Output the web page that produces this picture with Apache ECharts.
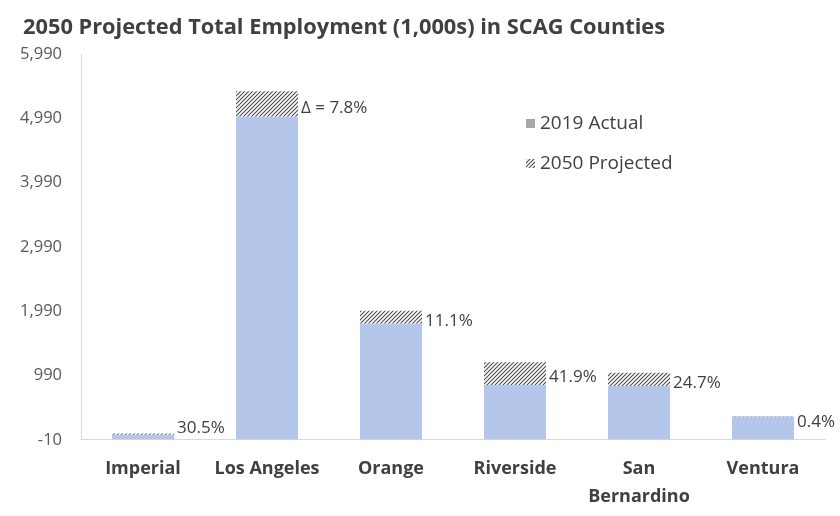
<!DOCTYPE html>
<html>
<head>
<meta charset="utf-8">
<script src="https://cdn.jsdelivr.net/npm/echarts@6/dist/echarts.min.js"></script>
<style>
  html, body { margin: 0; padding: 0; background: #ffffff; }
  #chart { width: 840px; height: 516px; }
</style>
</head>
<body>
<div id="chart"></div>
<script>
// County employment, thousands of jobs
const categories = ['Imperial', 'Los Angeles', 'Orange', 'Riverside', 'San\nBernardino', 'Ventura'];
const actual2019 = [70, 5020, 1800, 845, 830, 360];
const growthPct = [30.5, 7.8, 11.1, 41.9, 24.7, 0.4];
const yTicks = [-10, 990, 1990, 2990, 3990, 4990, 5990];

// Growth to 2050, added on top of the 2019 bar
const growthAmount = actual2019.map((v, i) => v * growthPct[i] / 100);

// Diagonal hatch fill for the projected segment
function hatchPattern() {
  const c = document.createElement('canvas');
  c.width = 4; c.height = 4;
  const g = c.getContext('2d');
  g.fillStyle = '#ffffff';
  g.fillRect(0, 0, 4, 4);
  g.strokeStyle = '#4a4a4a';
  g.lineWidth = 1.1;
  g.beginPath();
  g.moveTo(0, 4); g.lineTo(4, 0);
  g.moveTo(-1, 1); g.lineTo(1, -1);
  g.moveTo(3, 5); g.lineTo(5, 3);
  g.stroke();
  return { image: c, repeat: 'repeat' };
}

const chart = echarts.init(document.getElementById('chart'), null, { renderer: 'canvas' });
const font = '"Open Sans", "Noto Sans", sans-serif';

chart.setOption({
  backgroundColor: '#ffffff',
  animation: false,
  textStyle: { fontFamily: font },
  title: {
    text: '2050 Projected Total Employment (1,000s) in SCAG Counties',
    left: 18, top: 12,
    textStyle: { fontFamily: font, fontSize: 21.8, fontWeight: 'bold', color: '#404040' }
  },
  legend: {
    orient: 'vertical',
    left: 521, top: 109,
    itemWidth: 9, itemHeight: 9, itemGap: 21,
    icon: 'rect',
    textStyle: { fontFamily: font, fontSize: 19, color: '#404040' },
    data: [
      { name: '2019 Actual', itemStyle: { color: '#a4a7ae' } },
      { name: '2050 Projected' }
    ]
  },
  grid: { left: 81, right: 15, top: 54, bottom: 76 },
  xAxis: {
    type: 'category',
    data: categories,
    axisLine: { show: true, lineStyle: { color: '#d9d9d9', width: 1 } },
    axisTick: { show: false },
    axisLabel: {
      interval: 0,
      margin: 15, fontFamily: font, fontSize: 18, fontWeight: 'bold',
      color: '#404040', lineHeight: 28
    }
  },
  yAxis: {
    type: 'value',
    min: yTicks[0], max: yTicks[yTicks.length - 1], interval: 1000,
    axisLine: { show: true, lineStyle: { color: '#d9d9d9' } },
    axisTick: { show: false },
    splitLine: { show: false },
    axisLabel: {
      margin: 19, fontFamily: font, fontSize: 16.5, color: '#595959',
      formatter: v => v.toLocaleString('en-US')
    }
  },
  series: [
    {
      name: '2019 Actual',
      type: 'bar',
      stack: 'emp',
      barWidth: 62,
      itemStyle: { color: '#b4c7ea' },
      data: actual2019
    },
    {
      name: '2050 Projected',
      type: 'bar',
      stack: 'emp',
      barWidth: 62,
      itemStyle: { color: hatchPattern() },
      label: {
        show: true,
        position: 'right',
        distance: 3,
        fontFamily: font, fontSize: 17, color: '#404040',
        formatter: p => (p.dataIndex === 1 ? 'Δ = ' : '') + growthPct[p.dataIndex].toFixed(1) + '%'
      },
      data: growthAmount.map((v, i) => ({
        value: v,
        label: { offset: i === 0 ? [0, -6] : (i === 5 ? [0, 6] : [0, 4]) }
      }))
    }
  ]
});
</script>
</body>
</html>
